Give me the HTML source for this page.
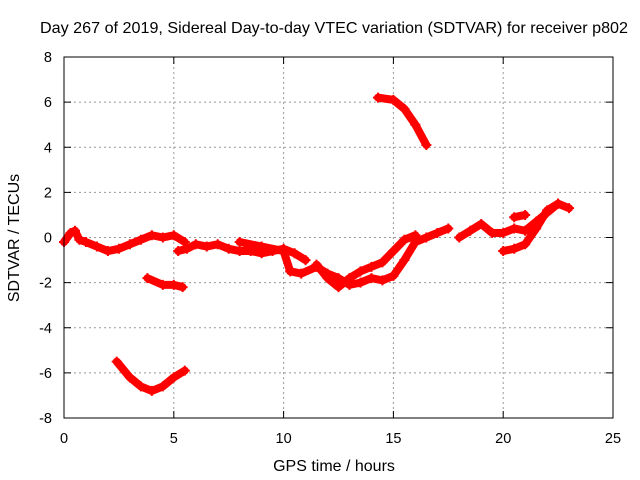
<!DOCTYPE html>
<html><head><meta charset="utf-8"><style>
body{margin:0;background:#fff;}
svg{display:block;font-family:"Liberation Sans",sans-serif;}
</style></head><body>
<svg id="chart" width="640" height="480">
<rect width="640" height="480" fill="#fff"/>
<text x="334" y="33" font-size="16" text-anchor="middle" textLength="588" lengthAdjust="spacingAndGlyphs">Day 267 of 2019, Sidereal Day-to-day VTEC variation (SDTVAR) for receiver p802</text>
<text x="334" y="471" font-size="16" text-anchor="middle">GPS time / hours</text>
<text transform="translate(19,238) rotate(-90)" font-size="16" text-anchor="middle">SDTVAR / TECUs</text>
<g id="grid"></g><g id="series"></g>
<rect x="64" y="57" width="549" height="361" fill="none" stroke="#000" stroke-width="1"/>
</svg>
<script>
const xTicks=[0,5,10,15,20,25];
const yTicks=[-8,-6,-4,-2,0,2,4,6,8];
const seg1=[[0,-0.2],[0.3,0.2],[0.5,0.3],[0.7,-0.1],[1,-0.2],[1.5,-0.4],[2,-0.6],[2.5,-0.5],[3,-0.3],[3.5,-0.1],[4,0.1],[4.5,0],[5,0.1],[5.5,-0.2]];
const seg2=[[5.2,-0.6],[5.6,-0.5],[6,-0.3],[6.5,-0.4],[7,-0.3],[7.5,-0.5],[8,-0.6],[8.5,-0.6],[9,-0.7],[9.5,-0.6],[10,-0.5],[10.5,-0.7],[11,-1.0]];
const seg3=[[8,-0.2],[9,-0.4],[10,-0.6],[10.3,-1.5],[10.8,-1.6],[11.5,-1.3],[12,-1.6],[12.5,-1.8],[13,-2.1],[13.5,-2.0],[14,-1.8],[14.5,-1.9],[15,-1.7],[15.5,-1.0],[16,-0.2],[16.5,0],[17,0.2],[17.5,0.4]];
const seg4=[[11.5,-1.2],[12,-1.8],[12.5,-2.2],[13,-1.8],[13.5,-1.5],[14,-1.3],[14.5,-1.1],[15,-0.6],[15.5,-0.1],[16,0.1]];
const seg5=[[14.3,6.2],[15,6.1],[15.5,5.7],[16,5.0],[16.5,4.1]];
const seg6=[[18,0],[18.5,0.3],[19,0.6],[19.5,0.2],[20,0.2],[20.5,0.4],[21,0.3],[21.5,0.7],[22,1.1],[22.5,1.5],[23,1.3]];
const seg7=[[20,-0.6],[20.5,-0.5],[21,-0.3],[21.5,0.4],[22,1.2],[22.5,1.5]];
const seg8=[[3.8,-1.8],[4.5,-2.1],[5,-2.1],[5.4,-2.2]];
const seg9=[[2.4,-5.5],[3,-6.2],[3.5,-6.6],[4,-6.8],[4.5,-6.6],[5,-6.2],[5.5,-5.9]];
const seg10=[[20.5,0.9],[21,1.0]];
const segments=[seg1,seg2,seg3,seg4,seg5,seg6,seg7,seg8,seg9,seg10];
const NS="http://www.w3.org/2000/svg";
const X=v=>64+v*549/25, Y=v=>237.5-v*361/16;
const grid=document.getElementById('grid'), ser=document.getElementById('series');
function mk(tag,attrs,parent){const e=document.createElementNS(NS,tag);for(const k in attrs)e.setAttribute(k,attrs[k]);parent.appendChild(e);return e;}
xTicks.forEach(t=>{
 if(t>0&&t<25){const l=mk('line',{x1:X(t),x2:X(t),y1:57,y2:418,stroke:'#999','stroke-dasharray':'2,3'},grid);}
 const tk=mk('line',{x1:X(t),x2:X(t),y1:418,y2:411,stroke:'#000'},grid);
 const tk2=mk('line',{x1:X(t),x2:X(t),y1:57,y2:64,stroke:'#000'},grid);
 const tx=mk('text',{x:X(t),y:443,'font-size':14.5,'text-anchor':'middle'},grid);tx.textContent=t;
});
yTicks.forEach(t=>{
 if(t>-8&&t<8){const l=mk('line',{x1:64,x2:613,y1:Y(t),y2:Y(t),stroke:'#999','stroke-dasharray':'2,3'},grid);}
 const tk=mk('line',{x1:64,x2:71,y1:Y(t),y2:Y(t),stroke:'#000'},grid);
 const tk2=mk('line',{x1:606,x2:613,y1:Y(t),y2:Y(t),stroke:'#000'},grid);
 const tx=mk('text',{x:52,y:Y(t)+5,'font-size':14.5,'text-anchor':'end'},grid);tx.textContent=t;
});
segments.forEach(s=>{
 const p=mk('polyline',{points:s.map(d=>X(d[0])+','+Y(d[1])).join(' '),fill:'none',stroke:'#f00','stroke-width':8,'stroke-linejoin':'round','stroke-linecap':'round'},ser);
 
 
 s.forEach(d=>{
  const m=mk('path',{d:`M${X(d[0])-5},${Y(d[1])}h10M${X(d[0])},${Y(d[1])-5}v10`,stroke:'#f00','stroke-width':2},ser);
  
  
 });
});
</script>
</body></html>
